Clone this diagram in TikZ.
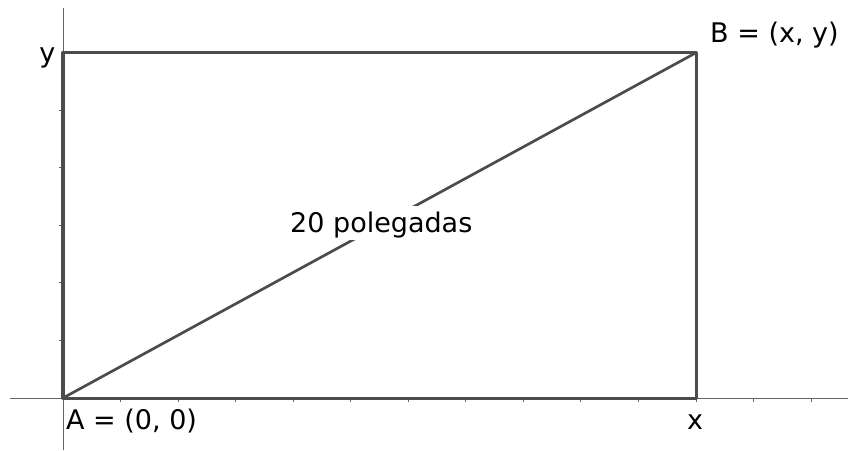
\documentclass[tikz,border=0pt]{standalone}
\usepackage{fontspec}
\setmainfont{DejaVu Sans}
\begin{document}
\begin{tikzpicture}[x=1pt,y=1pt,
  axisline/.style={draw=black!60,line width=1pt},
  tickline/.style={draw=black!60,line width=1pt},
  rectline/.style={draw=black!70,line width=3pt,line cap=round,line join=round},
  lbl/.style={inner sep=0pt,font=\fontsize{27}{32}\selectfont,text=black}]
\useasboundingbox (0,0) rectangle (848,450);
\def\u{57.55}
% axes
\coordinate (xl) at (10,52);
\coordinate (xr) at (848,52);
\coordinate (yb) at (63,0);
\coordinate (yt) at (63,442);
\draw[axisline] (xl) -- (xr);
\draw[axisline] (yb) -- (yt);
\foreach \i in {1,...,13} \draw[tickline] (63+\i*\u,52) -- ++(0,-4);
\foreach \j in {1,...,5} \draw[tickline] (63,52+\j*\u) -- ++(-4,0);
% rectangle
\coordinate (A) at (63,52);
\coordinate (B) at (63+11*\u,52+6*\u);
\coordinate (C) at (63+11*\u,52);
\coordinate (D) at (63,52+6*\u);
\draw[rectline] (A) -- (C) -- (B) -- (D) -- cycle;
\draw[rectline,line width=3.6pt] (A) -- (D);
\draw[rectline,line width=2.7pt] (A) -- (B);
% labels
\node[lbl,fill=white,anchor=base west,text height=26.7pt,text depth=7.3pt] (len) at (290,217.3) {20 polegadas};
\node[lbl,anchor=base west] (Alab) at (66,20.5) {A = (0, 0)};
\node[lbl,anchor=base] (xlab) at (695,20.5) {x};
\node[lbl,anchor=base west] (Blab) at (710,407.7) {B = (x, y)};
\node[lbl,anchor=base east] (ylab) at (55.5,387) {y};
\end{tikzpicture}
\end{document}
